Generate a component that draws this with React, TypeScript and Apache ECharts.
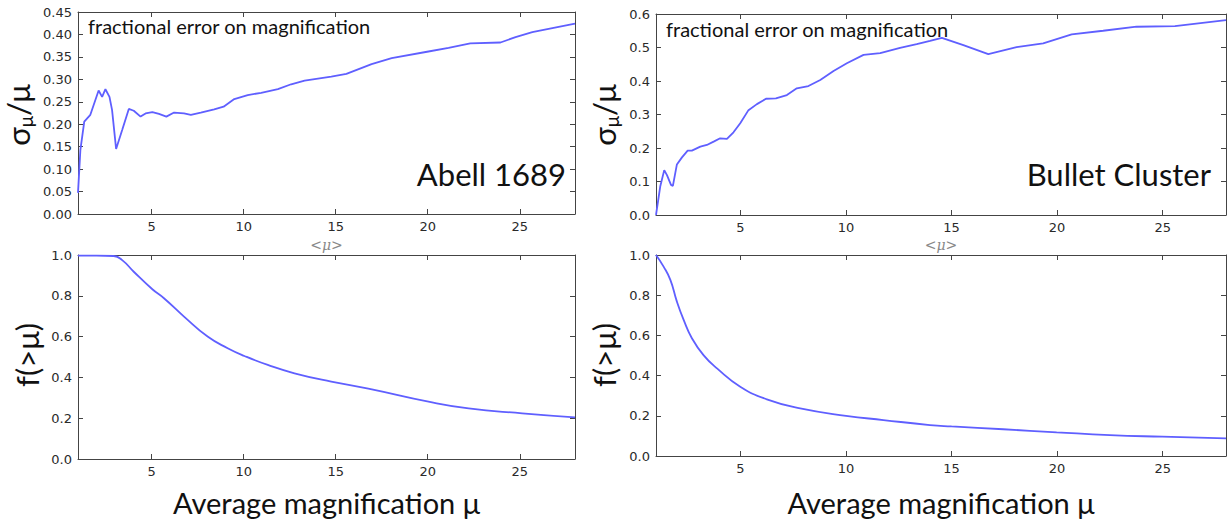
import React, { useEffect, useRef } from "react";
import * as echarts from "echarts";

// ---- Data ----
const abellMu = [1.0, 1.13, 1.34, 1.67, 2.12, 2.31, 2.49, 2.71, 2.85, 3.07, 3.4, 3.76, 4.03, 4.4, 4.67, 5.04, 5.4, 5.8, 6.22, 6.76, 7.13, 7.67, 8.4, 8.91, 9.49, 10.22, 10.95, 11.86, 12.58, 13.31, 14.76, 15.58, 16.95, 18.04, 20.04, 21.13, 22.31, 23.95, 24.77, 25.68, 26.77, 28.0];
const abellSigma = [0.047, 0.143, 0.206, 0.221, 0.275, 0.261, 0.278, 0.261, 0.232, 0.145, 0.187, 0.234, 0.23, 0.217, 0.224, 0.227, 0.223, 0.217, 0.226, 0.224, 0.221, 0.226, 0.233, 0.239, 0.256, 0.265, 0.27, 0.278, 0.289, 0.297, 0.306, 0.312, 0.334, 0.347, 0.362, 0.37, 0.38, 0.382, 0.394, 0.405, 0.414, 0.424];

const bulletMu = [1.0, 1.2, 1.39, 1.52, 1.71, 1.8, 1.99, 2.23, 2.5, 2.7, 3.1, 3.41, 3.73, 4.04, 4.36, 4.67, 4.99, 5.38, 5.78, 6.21, 6.68, 7.2, 7.67, 8.22, 8.78, 9.41, 10.04, 10.83, 11.62, 12.56, 13.35, 13.98, 14.54, 15.56, 16.74, 18.08, 19.34, 20.69, 22.18, 23.76, 25.58, 28.0];
const bulletSigma = [0.0, 0.085, 0.134, 0.119, 0.09, 0.087, 0.151, 0.172, 0.192, 0.192, 0.204, 0.209, 0.219, 0.229, 0.227, 0.247, 0.274, 0.313, 0.331, 0.347, 0.348, 0.358, 0.378, 0.385, 0.403, 0.43, 0.453, 0.478, 0.483, 0.499, 0.51, 0.52, 0.529, 0.507, 0.48, 0.501, 0.512, 0.539, 0.55, 0.562, 0.564, 0.582];

const abellMuF = [1.0, 2.0, 2.94, 3.4, 4.03, 5.04, 5.67, 6.76, 8.04, 9.13, 10.04, 11.31, 12.76, 14.76, 16.77, 20.04, 22.22, 25.13, 28.0];
const abellFrac = [0.997, 0.997, 0.995, 0.975, 0.918, 0.832, 0.788, 0.698, 0.6, 0.543, 0.505, 0.461, 0.42, 0.379, 0.345, 0.281, 0.248, 0.224, 0.204];

const bulletMuF = [1.0, 1.36, 1.68, 1.99, 2.31, 2.7, 3.25, 3.89, 4.99, 6.25, 7.83, 10.0, 11.77, 13.98, 15.0, 17.45, 19.98, 22.5, 24.98, 28.0];
const bulletFrac = [1.0, 0.942, 0.876, 0.768, 0.677, 0.586, 0.502, 0.436, 0.345, 0.282, 0.237, 0.2, 0.179, 0.154, 0.147, 0.133, 0.118, 0.104, 0.096, 0.088];

const xTicks = [5, 10, 15, 20, 25];
const panelNames = ["Abell 1689", "Bullet Cluster"];
const topNote = "fractional error on magnification";
const xTitle = "Average magnification \u03bc";
const topXTitle = "<\u03bc>";

const zip = (xs: number[], ys: number[]) => xs.map((x, i) => [x, ys[i]]);

const TITLE_FONT = "Lato, 'Open Sans', sans-serif";
const TICK_FONT = "'DejaVu Sans', sans-serif";
const FRAME = "#444";
const LINE = "#5f5fff";

export default function App() {
  const ref = useRef<HTMLDivElement>(null);
  useEffect(() => {
    if (!ref.current) return;
    const chart = echarts.init(ref.current, undefined, { renderer: "svg" });

    const grids = [
      { left: 78, top: 12, width: 497, height: 202 },
      { left: 656, top: 14, width: 570, height: 201 },
      { left: 78, top: 255, width: 497, height: 204 },
      { left: 656, top: 255, width: 570, height: 201 },
    ];
    const yCfg = [
      { max: 0.45, interval: 0.05, digits: 2 },
      { max: 0.6, interval: 0.1, digits: 1 },
      { max: 1.0, interval: 0.2, digits: 1 },
      { max: 1.0, interval: 0.2, digits: 1 },
    ];

    const xAxes: any[] = [];
    const yAxes: any[] = [];
    grids.forEach((_, g) => {
      const common = {
        type: "value",
        gridIndex: g,
        min: 1,
        max: 28,
        axisLine: { show: true, onZero: false, lineStyle: { color: FRAME, width: 1 } },
        axisTick: { show: true, inside: true, length: 5, customValues: xTicks, lineStyle: { color: FRAME } },
        splitLine: { show: false },
      };
      xAxes.push({
        ...common,
        position: "bottom",
        axisLabel: {
          show: true,
          customValues: xTicks,
          margin: 6,
          fontFamily: TICK_FONT,
          fontSize: 13,
          color: "#2a2a2a",
        },
      });
      xAxes.push({ ...common, position: "top", axisLabel: { show: false } });
      const yc = yCfg[g];
      const ycommon = {
        type: "value",
        gridIndex: g,
        min: 0,
        max: yc.max,
        interval: yc.interval,
        axisLine: { show: true, onZero: false, lineStyle: { color: FRAME, width: 1 } },
        axisTick: { show: true, inside: true, length: 5, lineStyle: { color: FRAME } },
        splitLine: { show: false },
      };
      yAxes.push({
        ...ycommon,
        position: "left",
        axisLabel: {
          show: true,
          margin: 6,
          fontFamily: TICK_FONT,
          fontSize: 13,
          color: "#2a2a2a",
          formatter: (v: number) => v.toFixed(yc.digits),
        },
      });
      yAxes.push({ ...ycommon, position: "right", axisLabel: { show: false } });
    });

    const datasets = [
      { d: zip(abellMu, abellSigma), smooth: false },
      { d: zip(bulletMu, bulletSigma), smooth: false },
      { d: zip(abellMuF, abellFrac), smooth: true },
      { d: zip(bulletMuF, bulletFrac), smooth: true },
    ];
    const series = datasets.map((s, g) => ({
      type: "line",
      xAxisIndex: 2 * g,
      yAxisIndex: 2 * g,
      data: s.d,
      smooth: s.smooth ? 0.5 : false,
      showSymbol: false,
      symbol: "none",
      lineStyle: { color: LINE, width: 1.8 },
      z: 3,
    }));

    const centersX = [78 + 497 / 2, 656 + 570 / 2];
    const graphic: any[] = [];
    [
      { x: 88, y: 26 },
      { x: 666, y: 29 },
    ].forEach((p) =>
      graphic.push({
        type: "text",
        x: p.x,
        y: p.y,
        z: 10,
        style: { text: topNote, font: `20px ${TITLE_FONT}`, fill: "#111", align: "left", verticalAlign: "middle", textAlign: "left", textVerticalAlign: "middle" },
      })
    );
    [
      { x: 566, y: 174, t: panelNames[0] },
      { x: 1211, y: 174, t: panelNames[1] },
    ].forEach((p) =>
      graphic.push({
        type: "text",
        x: p.x,
        y: p.y,
        z: 10,
        style: { text: p.t, font: `31px ${TITLE_FONT}`, fill: "#111", align: "right", verticalAlign: "middle", textAlign: "right", textVerticalAlign: "middle" },
      })
    );
    centersX.forEach((cx) =>
      graphic.push({
        type: "text",
        x: cx,
        y: 245,
        z: 10,
        style: { text: topXTitle, font: `italic 14px 'DejaVu Serif', serif`, fill: "#888", align: "center", verticalAlign: "middle", textAlign: "center", textVerticalAlign: "middle" },
      })
    );
    centersX.forEach((cx) =>
      graphic.push({
        type: "text",
        x: cx,
        y: 502,
        z: 10,
        style: { text: xTitle, font: `29px ${TITLE_FONT}`, fill: "#111", align: "center", verticalAlign: "middle", textAlign: "center", textVerticalAlign: "middle" },
      })
    );
    [
      { x: 18, y: 115 },
      { x: 604, y: 115 },
    ].forEach((p) =>
      graphic.push({
        type: "text",
        x: p.x,
        y: p.y,
        rotation: Math.PI / 2,
        z: 10,
        style: {
          text: "{a|\u03c3}{b|\u03bc}{a|/\u03bc}",
          align: "center",
          verticalAlign: "middle",
          textAlign: "center",
          textVerticalAlign: "middle",
          fill: "#111",
          rich: {
            a: { fontSize: 31, fontFamily: TITLE_FONT, fill: "#111", color: "#111", lineHeight: 36 },
            b: { fontSize: 19, fontFamily: TITLE_FONT, fill: "#111", color: "#111", lineHeight: 36, padding: [14, 0, 0, 0] },
          },
        },
      })
    );
    [
      { x: 27, y: 355 },
      { x: 604, y: 355 },
    ].forEach((p) =>
      graphic.push({
        type: "text",
        x: p.x,
        y: p.y,
        rotation: Math.PI / 2,
        z: 10,
        style: { text: "f(>\u03bc)", font: `31px ${TITLE_FONT}`, fill: "#111", align: "center", verticalAlign: "middle", textAlign: "center", textVerticalAlign: "middle" },
      })
    );

    chart.setOption({
      animation: false,
      backgroundColor: "#ffffff",
      grid: grids.map((g) => ({ ...g, containLabel: false, show: false })),
      xAxis: xAxes,
      yAxis: yAxes,
      series,
      graphic,
    });
    return () => chart.dispose();
  }, []);

  return (
    <div
      ref={ref}
      style={{ position: "absolute", left: 0, top: 0, width: 1231, height: 523, background: "#fff" }}
    />
  );
}
